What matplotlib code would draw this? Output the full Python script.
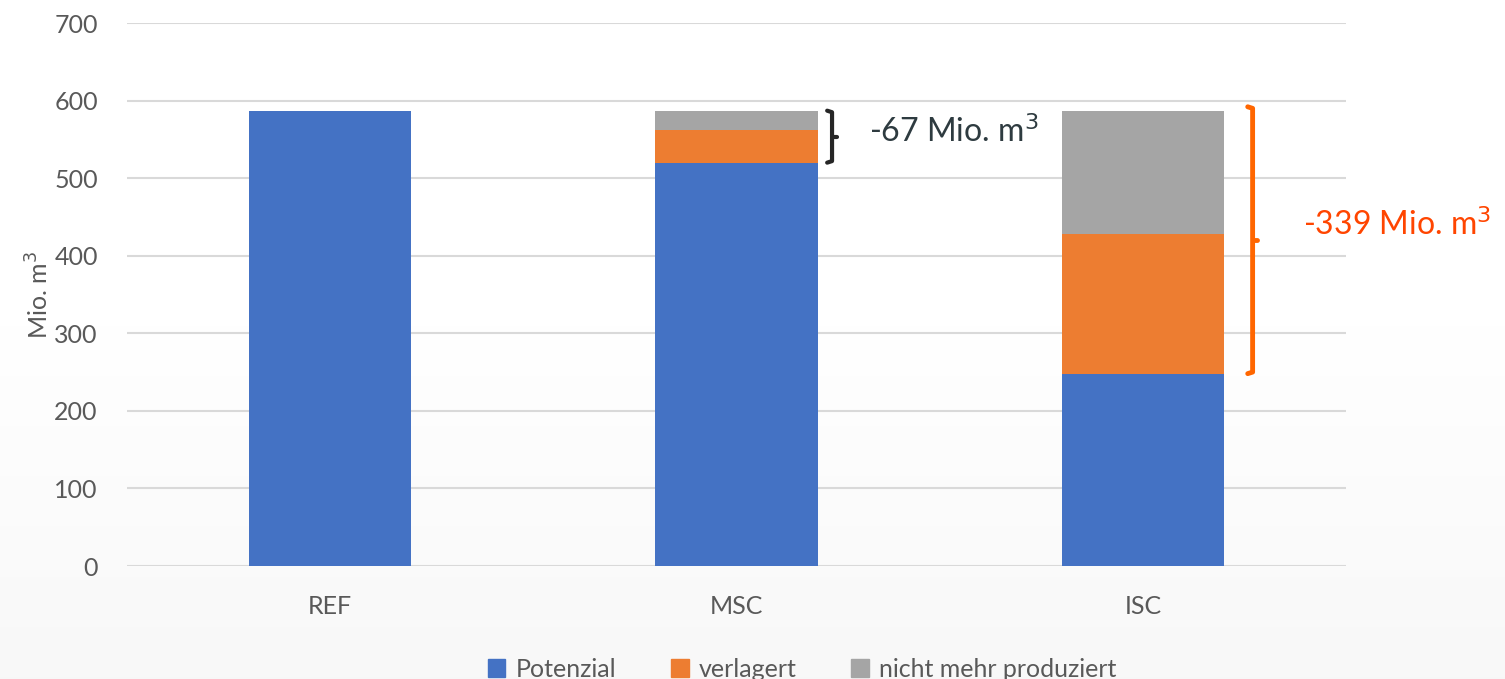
import numpy as np
import matplotlib.pyplot as plt
from matplotlib.patches import Patch

plt.rcParams['font.family'] = ['Lato', 'DejaVu Sans']

# Produktionsmengen in Mio. m³
szenarien = ["REF", "MSC", "ISC"]
potenzial = [587, 520, 248]
verlagert = [0, 42, 180]
nicht_mehr = [0, 25, 159]
verlust_msc = 67
verlust_isc = 339

farben = ["#4472C4", "#ED7D31", "#A5A5A5"]
grau_text = "#595959"

fig = plt.figure(figsize=(15.05, 6.79), dpi=100)

# leichter Verlauf im Hintergrund (weiß -> hellgrau nach unten)
bg = fig.add_axes([0, 0, 1, 1], zorder=-10)
grad = np.concatenate([np.ones(300), np.linspace(1, 0, 379)])[:, None]
bg.imshow(grad, aspect="auto", cmap="Greys_r", vmin=-16, vmax=1, extent=[0, 1, 0, 1])
bg.axis("off")

ax = fig.add_axes([0.0844, 0.1664, 0.8100, 0.7997])
ax.patch.set_alpha(0)

x = np.arange(len(szenarien))
breite = 0.4
unten2 = np.array(potenzial)
unten3 = unten2 + np.array(verlagert)
ax.bar(x, potenzial, breite, color=farben[0], zorder=3)
ax.bar(x, verlagert, breite, bottom=unten2, color=farben[1], zorder=3)
ax.bar(x, nicht_mehr, breite, bottom=unten3, color=farben[2], zorder=3)

ax.set_xlim(-0.5, 2.5)
ax.set_ylim(0, 700)
ax.set_yticks(range(0, 701, 100))
ax.set_xticks(x, szenarien)
ax.yaxis.grid(True, color="#d9d9d9", lw=1.5, zorder=0)
for s in ax.spines.values():
    s.set_visible(False)
ax.tick_params(axis="both", length=0, colors=grau_text, labelsize=18)
ax.tick_params(axis="y", pad=21)
ax.tick_params(axis="x", pad=21)
ax.set_ylabel("Mio. m$^3$", color=grau_text, fontsize=18, labelpad=1)

gesamt = unten3 + np.array(nicht_mehr)


def klammer(ax, xpos, y0, y1, farbe, lw, haken):
    # geschweifte Klammer: senkrechte Linie, Enden nach links, Spitze nach rechts
    ym = (y0 + y1) / 2
    ax.plot([xpos - haken, xpos, xpos, xpos - haken], [y1, y1 - 2, y0 + 2, y0],
            color=farbe, lw=lw, solid_capstyle="round", clip_on=False, zorder=4)
    ax.plot([xpos, xpos + haken], [ym, ym], color=farbe, lw=lw,
            solid_capstyle="round", clip_on=False, zorder=4)


klammer(ax, 1.235, gesamt[1] - verlust_msc, gesamt[1], "#262626", 3, 0.012)
ax.text(1.325, 560, f"-{verlust_msc} Mio. m$^3$", color="#2E3B40", fontsize=23,
        va="center", ha="left")

klammer(ax, 2.27, gesamt[2] - verlust_isc, gesamt[2] + 5, "#FF6600", 3.5, 0.012)
ax.text(2.395, 440, f"-{verlust_isc} Mio. m$^3$", color="#FF4500", fontsize=23,
        va="center", ha="left", clip_on=False)

handles = [Patch(color=c) for c in farben]
fig.legend(handles, ["Potenzial", "verlagert", "nicht mehr produziert"],
           loc="lower center", bbox_to_anchor=(0.533, -0.036), ncol=3, frameon=False,
           fontsize=18, handlelength=0.7, handleheight=0.7, handletextpad=0.4,
           columnspacing=2.2, labelcolor=grau_text)

fig.savefig("out.png", dpi=100)
